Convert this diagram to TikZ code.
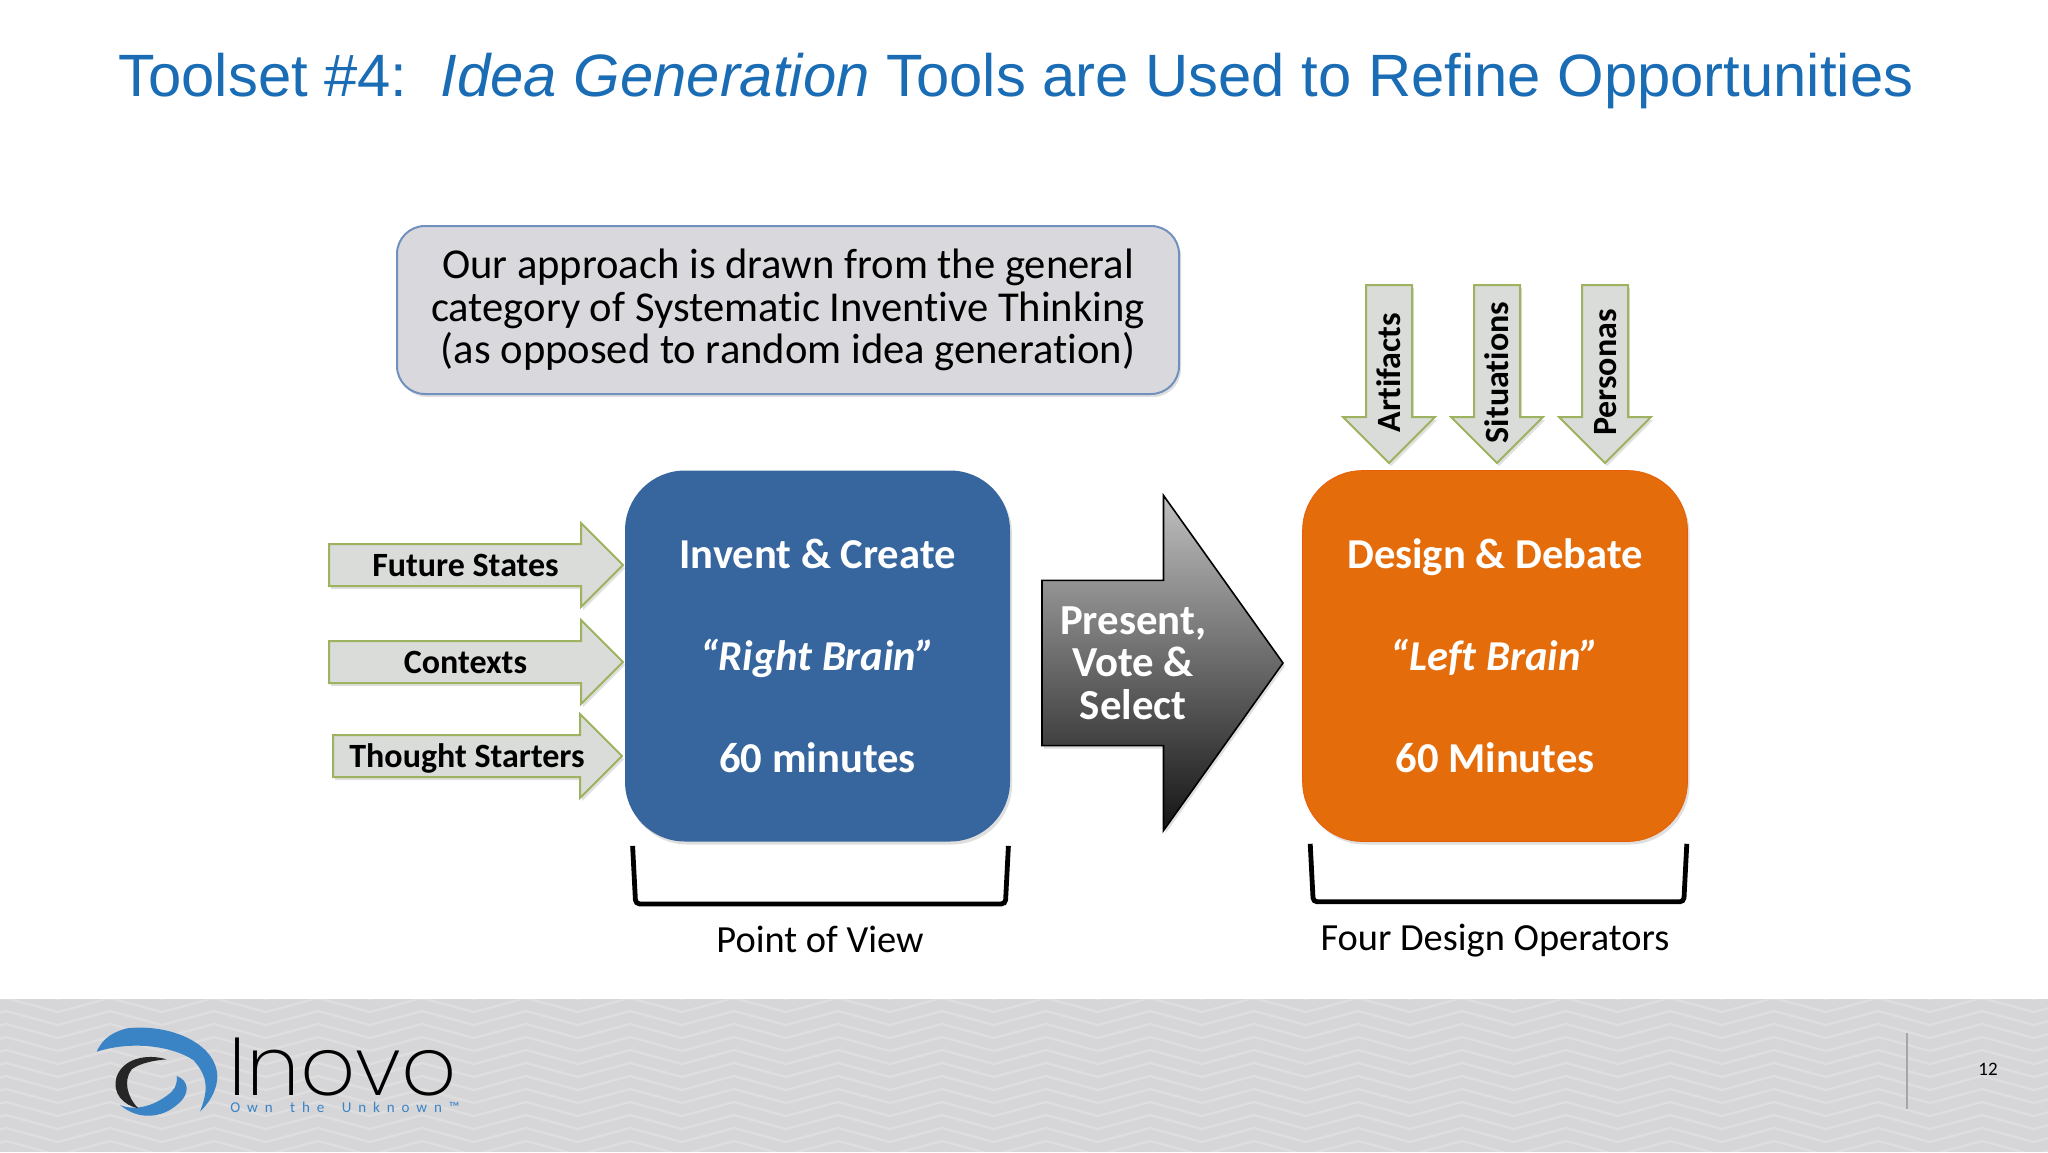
\documentclass[tikz,border=0pt]{standalone}
\usepackage{fontspec}
\setmainfont{Carlito}[Ligatures=CommonOff]
\newfontfamily\titlefont{Liberation Sans}
\newfontfamily\logofont{Poppins ExtraLight}
\newfontfamily\tagfont{Carlito}[LetterSpace=46,WordSpace=1.7]
\usepackage{tikz}
\usetikzlibrary{calc,shapes.arrows,shadows,decorations.pathmorphing}
\definecolor{titleblue}{HTML}{1A6DB5}
\definecolor{brainblue}{HTML}{36669D}
\definecolor{brainorange}{HTML}{E46C0A}
\definecolor{arrowgreen}{HTML}{9DB35F}
\definecolor{arrowfill}{HTML}{DADCDA}
\definecolor{calloutfill}{HTML}{D9D9DD}
\definecolor{calloutline}{HTML}{7190BE}
\definecolor{swirlblue}{HTML}{3A84C6}
\definecolor{footgray}{HTML}{D6D6D8}
\tikzset{softshadow/.style={drop shadow={shadow xshift=1pt,shadow yshift=-1.5pt,opacity=.25}}}
\tikzset{feedarrow/.style={single arrow,draw=arrowgreen,fill=arrowfill,line width=1pt,softshadow,
  inner xsep=0pt,inner ysep=2pt,outer sep=0pt,anchor=tip,single arrow head extend=10.5pt,minimum width=40pt,
  text height=13.5pt,text depth=2.5pt,font=\fontsize{17}{19}\selectfont\bfseries}}
\tikzset{droparrow/.style={feedarrow,minimum height=89pt,minimum width=45pt,inner ysep=3pt,inner xsep=-6pt,
  single arrow head extend=11.5pt,shape border rotate=180,rotate=90,execute at end node={\hspace*{10pt}}}}
\def\drawbracket{\draw[color=black, line width=2.4pt, rounded corners=2pt]}
\def\brainnode{\node[rounded corners=30pt,minimum width=192.5pt,minimum height=185.5pt,inner sep=0pt,
  text=white,align=center,font=\fontsize{21.3}{51}\selectfont\bfseries,softshadow]}
\def\capnode{\node[font=\fontsize{19.2}{22}\selectfont]}

\begin{document}
\begin{tikzpicture}[x=0.5pt,y=-0.5pt]
\useasboundingbox (0,0) rectangle (2048,1152);

\node[anchor=west,text=titleblue,inner sep=0pt,font=\fontsize{29.9}{33}\selectfont\titlefont] (title) at (118,81)
  {Toolset \#4:\ \ \textit{Idea Generation} Tools are Used to Refine Opportunities};

% ----------The callout on top
\node[rounded corners=14pt,draw=calloutline,fill=calloutfill,line width=1pt,minimum width=391pt,minimum height=84pt,
  inner sep=0pt,align=center,font=\fontsize{21.3}{21.2}\selectfont,softshadow] (callout) at (788,310)
  {Our approach is drawn from the general\\category of Systematic Inventive Thinking\\(as opposed to random idea generation)};

% -------- the two blocks ---------
\brainnode[fill=brainblue] (rightbrain) at (817.5,656)
  {Invent \& Create\\\textit{“Right Brain”}\\60 minutes};
\brainnode[fill=brainorange,draw=brainorange!85!red,line width=.3pt] (leftbrain) at (1495,656)
  {Design \& Debate\\\textit{“Left Brain”}\\60 Minutes};

% The arrows going into the blue block
\node[feedarrow,minimum height=147pt] (future) at (623,565) {Future States};
\node[feedarrow,minimum height=147pt] (contexts) at (623,662) {Contexts};
\node[feedarrow,minimum height=144.5pt] (starters) at (622,756) {Thought Starters};

% The arrows going into the orange block
\node[droparrow] (artifacts) at (1389,463) {Artifacts};
\node[droparrow] (situations) at (1497,463) {Situations};
\node[droparrow] (personas) at (1605,463) {Personas};

% The big arrow between the blocks
\node[single arrow,draw=black,line width=.8pt,top color=black!25,bottom color=black!92,softshadow,inner xsep=0pt,inner ysep=12pt,outer sep=0pt,
  anchor=tip,single arrow head extend=41.75pt,single arrow tip angle=109,minimum width=167.5pt,minimum height=120.5pt,
  text=white,align=center,font=\fontsize{21.4}{21.2}\selectfont\bfseries] (select) at (1283,663)
  {Present,\\Vote \&\\Select};

% -------- brackets under the blocks ---------
\coordinate (pov_left) at ($ (rightbrain.south west) + (8,4) $);
\coordinate (pov_right) at ($ (rightbrain.south east) + (-2,4) $);
\drawbracket (pov_left) -- ($ (pov_left) + (3,58) $) -- ($ (pov_right) + (-3,58) $) -- (pov_right);
\capnode (pov) at (820,939) {Point of View};

\coordinate (ops_left) at ($ (leftbrain.south west) + (8,2) $);
\coordinate (ops_right) at ($ (leftbrain.south east) + (-1,2) $);
\drawbracket (ops_left) -- ($ (ops_left) + (3,58) $) -- ($ (ops_right) + (-3,58) $) -- (ops_right);
\capnode (ops) at (1495,941) {Four Design Operators};

% -------- footer band ---------
\fill[footgray] (0,999) rectangle (2048,1152);
\begin{scope}
\clip (0,999) rectangle (2048,1152);
\foreach \rowy in {992,1005,...,1160}
  \draw[white,opacity=.2,line width=1.2pt,decorate,decoration={zigzag,segment length=52pt,amplitude=3.5pt}] (-20,\rowy) -- (2080,\rowy);
\end{scope}
\draw[color=black!35,line width=.6pt] (1907,1033) -- (1907,1109);
\node[font=\fontsize{9.5}{10}\selectfont] (pagenum) at (1988,1069) {12};

% The logo, all coordinates relative to the corner of the footer crop
\begin{scope}[shift={(60,990)},x=0.1667pt,y=-0.1667pt]
\fill[swirlblue] (110,185) .. controls (130,140) and (165,125) .. (200,115)
  .. controls (330,100) and (470,160) .. (472,260) .. controls (470,310) and (440,345) .. (420,365)
  .. controls (445,300) and (445,260) .. (400,210) .. controls (340,170) and (220,150) .. (110,185) -- cycle;
\fill[swirlblue] (350,258) .. controls (385,270) and (395,310) .. (350,345)
  .. controls (310,380) and (240,395) .. (180,345) .. controls (230,365) and (290,345) .. (335,305)
  .. controls (350,290) and (352,270) .. (350,258) -- cycle;
\fill[black!85] (320,208) .. controls (260,190) and (190,205) .. (170,260)
  .. controls (155,310) and (190,345) .. (235,355) .. controls (200,320) and (190,270) .. (215,238)
  .. controls (240,218) and (290,210) .. (320,208) -- cycle;
\end{scope}
\node[anchor=base west,inner sep=0pt,xscale=1.05,font=\fontsize{41}{41}\selectfont\logofont] (inovo) at (228,1095) {Inovo};
\node[anchor=west,inner sep=0pt,text=swirlblue,font=\fontsize{7.5}{8}\selectfont\tagfont] (tagline) at (230,1107) {Own the Unknown™};
\end{tikzpicture}
\end{document}
